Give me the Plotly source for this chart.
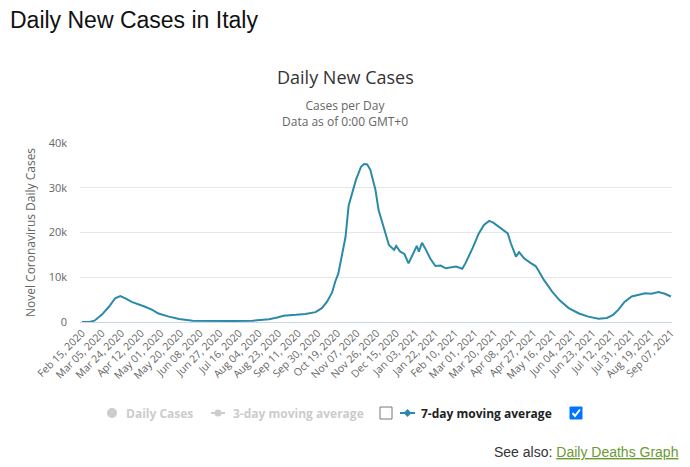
import plotly.graph_objects as go
import pandas as pd

# ---------------- data ----------------
dates = [
    "2020-02-15", "2020-02-22", "2020-02-27", "2020-03-05", "2020-03-12", "2020-03-18",
    "2020-03-23", "2020-03-28", "2020-04-03", "2020-04-10", "2020-04-16", "2020-04-23",
    "2020-04-29", "2020-05-09", "2020-05-19", "2020-06-01", "2020-06-15", "2020-06-26",
    "2020-07-10", "2020-07-29", "2020-08-14", "2020-08-22", "2020-08-28", "2020-09-09",
    "2020-09-18", "2020-09-28", "2020-10-04", "2020-10-09", "2020-10-14", "2020-10-17",
    "2020-10-20", "2020-10-27", "2020-10-30", "2020-11-06", "2020-11-11", "2020-11-14",
    "2020-11-17", "2020-11-20", "2020-11-25", "2020-11-28", "2020-12-04", "2020-12-08",
    "2020-12-13", "2020-12-15", "2020-12-19", "2020-12-23", "2020-12-27", "2020-12-30",
    "2021-01-04", "2021-01-06", "2021-01-09", "2021-01-12", "2021-01-17", "2021-01-22",
    "2021-01-27", "2021-02-01", "2021-02-06", "2021-02-11", "2021-02-17", "2021-02-20",
    "2021-02-27", "2021-03-05", "2021-03-10", "2021-03-15", "2021-03-19", "2021-03-22",
    "2021-03-29", "2021-04-02", "2021-04-05", "2021-04-10", "2021-04-13", "2021-04-18",
    "2021-04-24", "2021-04-29", "2021-05-02", "2021-05-07", "2021-05-15", "2021-05-22",
    "2021-05-31", "2021-06-10", "2021-06-19", "2021-06-29", "2021-07-07", "2021-07-13",
    "2021-07-18", "2021-07-24", "2021-07-31", "2021-08-06", "2021-08-13", "2021-08-19",
    "2021-08-26", "2021-09-01", "2021-09-07",
]
cases_7day = [
    0, 20, 300, 1600, 3400, 5300,
    5800, 5300, 4500, 4000, 3400, 2700,
    1900, 1200, 670, 300, 250, 200,
    220, 300, 600, 1000, 1400, 1600,
    1800, 2200, 3100, 4500, 6600, 9000,
    10800, 19000, 26000, 31700, 34700, 35300,
    35200, 34000, 29500, 25000, 20500, 17200,
    16100, 17000, 15700, 15200, 13100, 14600,
    17000, 15700, 17700, 16500, 14200, 12500,
    12600, 12000, 12200, 12400, 11900, 13100,
    16500, 19800, 21700, 22600, 22200, 21700,
    20600, 19800, 17600, 14600, 15600, 14200,
    13200, 12500, 11400, 9400, 6800, 4900,
    3100, 1900, 1200, 750, 900, 1600,
    2700, 4500, 5700, 6000, 6400, 6300,
    6700, 6300, 5700,
]
x_tick_labels = [
    "Feb 15, 2020", "Mar 05, 2020", "Mar 24, 2020", "Apr 12, 2020", "May 01, 2020",
    "May 20, 2020", "Jun 08, 2020", "Jun 27, 2020", "Jul 16, 2020", "Aug 04, 2020",
    "Aug 23, 2020", "Sep 11, 2020", "Sep 30, 2020", "Oct 19, 2020", "Nov 07, 2020",
    "Nov 26, 2020", "Dec 15, 2020", "Jan 03, 2021", "Jan 22, 2021", "Feb 10, 2021",
    "Mar 01, 2021", "Mar 20, 2021", "Apr 08, 2021", "Apr 27, 2021", "May 16, 2021",
    "Jun 04, 2021", "Jun 23, 2021", "Jul 12, 2021", "Jul 31, 2021", "Aug 19, 2021",
    "Sep 07, 2021",
]
y_tick_values = [0, 10000, 20000, 30000, 40000]
y_tick_labels = ["0", "10k", "20k", "30k", "40k"]
legend_labels = ["Daily Cases", "3-day moving average", "7-day moving average"]

# ---------------- layout helpers (page pixel -> paper) ----------------
PAGE_OFFSET = 8                      # default body margin of the html page
W, H = 690 - PAGE_OFFSET, 467 - PAGE_OFFSET
# plot area in page pixels
L, R, T, B = 80, 672, 143, 322


def px(x):
    return (x - L) / (R - L)


def py(y):
    return (B - y) / (B - T)


FONT = "Open Sans"
TEAL = "#2a8aa8"
GREY = "#cccccc"

x_tick_vals = pd.to_datetime(x_tick_labels, format="%b %d, %Y")

fig = go.Figure()
fig.add_trace(go.Scatter(
    x=pd.to_datetime(dates), y=cases_7day, mode="lines",
    line=dict(color=TEAL, width=2), name=legend_labels[2], showlegend=False,
))

shapes = [
    # Daily Cases legend circle
    dict(type="circle", xref="paper", yref="paper", x0=px(107), x1=px(117), y0=py(418), y1=py(408),
         fillcolor=GREY, line=dict(width=0)),
    # 3-day legend line + circle
    dict(type="line", xref="paper", yref="paper", x0=px(211), x1=px(225), y0=py(413), y1=py(413),
         line=dict(color=GREY, width=2)),
    dict(type="circle", xref="paper", yref="paper", x0=px(214.5), x1=px(221.5), y0=py(416.5), y1=py(409.5),
         fillcolor=GREY, line=dict(width=0)),
    # empty checkbox
    dict(type="rect", xref="paper", yref="paper", x0=px(380), x1=px(392), y0=py(419), y1=py(407),
         fillcolor="white", line=dict(color="#767676", width=1)),
    # 7-day legend line + diamond
    dict(type="line", xref="paper", yref="paper", x0=px(400), x1=px(415), y0=py(413), y1=py(413),
         line=dict(color=TEAL, width=2)),
    dict(type="path", xref="paper", yref="paper",
         path=f"M {px(407.5)},{py(409)} L {px(411.5)},{py(413)} L {px(407.5)},{py(417)} L {px(403.5)},{py(413)} Z",
         fillcolor=TEAL, line=dict(width=0)),
    # checked checkbox
    dict(type="rect", xref="paper", yref="paper", x0=px(570), x1=px(582), y0=py(419), y1=py(407),
         fillcolor="#0075ff", line=dict(color="#0075ff", width=1)),
    dict(type="path", xref="paper", yref="paper",
         path=f"M {px(572.5)},{py(413)} L {px(575)},{py(416)} L {px(580)},{py(409.5)}",
         line=dict(color="white", width=2)),
]

annotations = [
    dict(text="Daily New Cases", x=px(345), y=py(77), xref="paper", yref="paper",
         showarrow=False, xanchor="center", yanchor="middle",
         font=dict(family=FONT, size=18, color="#333333")),
    dict(text="Cases per Day<br>Data as of 0:00 GMT+0", x=px(345), y=py(113.5), xref="paper", yref="paper",
         showarrow=False, xanchor="center", yanchor="middle",
         font=dict(family=FONT, size=12, color="#666666")),
    dict(text="<b>" + legend_labels[0] + "</b>", x=px(124), y=py(413), xref="paper", yref="paper",
         showarrow=False, xanchor="left", yanchor="middle",
         font=dict(family=FONT, size=12, color=GREY)),
    dict(text="<b>" + legend_labels[1] + "</b>", x=px(231), y=py(413), xref="paper", yref="paper",
         showarrow=False, xanchor="left", yanchor="middle",
         font=dict(family=FONT, size=12, color=GREY)),
    dict(text="<b>" + legend_labels[2] + "</b>", x=px(419), y=py(413), xref="paper", yref="paper",
         showarrow=False, xanchor="left", yanchor="middle",
         font=dict(family=FONT, size=12, color="#222222")),
    dict(text="See also: <span style='color:#6b9a31'><u>Daily Deaths Graph</u></span>",
         x=px(680), y=py(452), xref="paper", yref="paper",
         showarrow=False, xanchor="right", yanchor="middle",
         font=dict(family="Liberation Sans", size=14, color="#333333")),
]

fig.update_layout(
    width=W, height=H,
    margin=dict(l=L - PAGE_OFFSET, r=W - (R - PAGE_OFFSET), t=T - PAGE_OFFSET,
                b=H - (B - PAGE_OFFSET), pad=0),
    paper_bgcolor="white", plot_bgcolor="white",
    title=dict(text="Daily New Cases in Italy", x=(10 - PAGE_OFFSET) / W, xref="container", xanchor="left",
               y=1 - (20 - PAGE_OFFSET) / H, yref="container", yanchor="middle",
               font=dict(family="Liberation Sans", size=23, color="#111111")),
    showlegend=False,
    shapes=shapes,
    annotations=annotations,
    xaxis=dict(
        type="date", range=["2020-02-13", "2021-09-08"],
        tickmode="array", tickvals=x_tick_vals, ticktext=x_tick_labels,
        tickangle=-45, showgrid=False, zeroline=False,
        showline=True, linecolor="#ccd6eb", linewidth=1,
        ticks="", tickfont=dict(family=FONT, size=10.5, color="#666666"),
    ),
    yaxis=dict(
        range=[0, 40000], tickmode="array", tickvals=y_tick_values, ticktext=y_tick_labels,
        showgrid=True, gridcolor="#e6e6e6", gridwidth=1, zeroline=False, showline=False,
        ticks="", ticklabelstandoff=12,
        tickfont=dict(family=FONT, size=11, color="#666666"),
        title=dict(text="Novel Coronavirus Daily Cases", standoff=10,
                   font=dict(family=FONT, size=12, color="#666666")),
    ),
)

fig.write_html("out.html", config={"displayModeBar": False})
